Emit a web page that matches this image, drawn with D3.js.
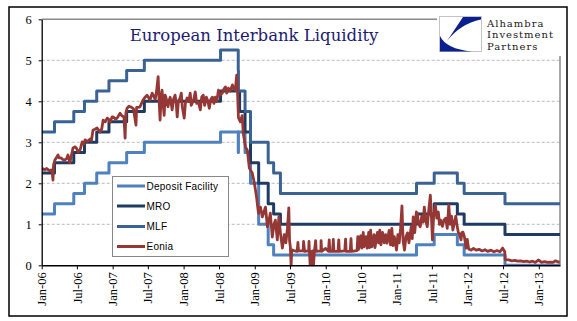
<!DOCTYPE html>
<html><head><meta charset="utf-8">
<script src="https://cdnjs.cloudflare.com/ajax/libs/d3/7.8.5/d3.min.js"></script>
<style>body{margin:0;background:#fff;} svg{display:block}</style>
</head><body><svg id="c" width="577" height="321"></svg>
<script>
const title = "European Interbank Liquidity";
const logoLines = ["Alhambra", "Investment", "Partners"];
const seriesNames = ["Deposit Facility", "MRO", "MLF", "Eonia"];
const yTicks = [0, 1, 2, 3, 4, 5, 6];
const xTickLabels = ["Jan-06","Jul-06","Jan-07","Jul-07","Jan-08","Jul-08","Jan-09","Jul-09","Jan-10","Jul-10","Jan-11","Jul-11","Jan-12","Jul-12","Jan-13"];
const startDate = "2006-01-01";
const endDate = "2013-04-20";

const depositFacility = [["2006-01-01",1.25],["2006-03-08",1.50],["2006-06-15",1.75],["2006-08-09",2.00],["2006-10-11",2.25],["2006-12-13",2.50],["2007-03-14",2.75],["2007-06-13",3.00],["2008-07-09",3.25],["2008-10-08",2.75],["2008-10-09",3.25],["2008-11-12",2.75],["2008-12-10",2.00],["2009-01-21",1.00],["2009-03-11",0.50],["2009-04-08",0.25],["2011-04-13",0.50],["2011-07-13",0.75],["2011-11-09",0.50],["2011-12-14",0.25],["2012-07-11",0.00]];
const mro = [["2006-01-01",2.25],["2006-03-08",2.50],["2006-06-15",2.75],["2006-08-09",3.00],["2006-10-11",3.25],["2006-12-13",3.50],["2007-03-14",3.75],["2007-06-13",4.00],["2008-07-09",4.25],["2008-10-15",3.75],["2008-11-12",3.25],["2008-12-10",2.50],["2009-01-21",2.00],["2009-03-11",1.50],["2009-04-08",1.25],["2009-05-13",1.00],["2011-04-13",1.25],["2011-07-13",1.50],["2011-11-09",1.25],["2011-12-14",1.00],["2012-07-11",0.75]];
const mlf = [["2006-01-01",3.25],["2006-03-08",3.50],["2006-06-15",3.75],["2006-08-09",4.00],["2006-10-11",4.25],["2006-12-13",4.50],["2007-03-14",4.75],["2007-06-13",5.00],["2008-07-09",5.25],["2008-10-08",4.75],["2008-10-09",4.25],["2008-11-12",3.75],["2008-12-10",3.00],["2009-03-11",2.50],["2009-04-08",2.25],["2009-05-13",1.75],["2011-04-13",2.00],["2011-07-13",2.25],["2011-11-09",2.00],["2011-12-14",1.75],["2012-07-11",1.50]];
const eonia = [
["2006-01-02",2.37],["2006-01-16",2.33],["2006-01-27",2.36],["2006-02-10",2.31],["2006-02-23",2.33],["2006-02-28",2.08],["2006-03-03",2.45],["2006-03-10",2.57],["2006-03-26",2.69],["2006-03-31",2.62],["2006-04-10",2.62],["2006-04-20",2.58],["2006-04-30",2.57],["2006-05-09",2.60],["2006-05-16",2.69],["2006-05-26",2.50],["2006-06-02",2.66],["2006-06-11",2.86],["2006-06-21",2.89],["2006-06-30",2.85],["2006-07-07",2.76],["2006-07-18",2.82],["2006-07-28",3.01],["2006-08-05",2.95],["2006-08-12",3.06],["2006-08-25",3.02],["2006-09-07",3.08],["2006-09-14",3.05],["2006-09-22",3.30],["2006-10-02",3.32],["2006-10-13",3.35],["2006-10-28",3.25],["2006-11-06",3.33],["2006-11-13",3.54],["2006-11-24",3.50],["2006-12-04",3.59],["2006-12-12",3.56],["2006-12-19",3.49],["2006-12-29",3.62],
["2007-01-03",3.62],["2007-01-15",3.57],["2007-01-24",3.59],["2007-02-08",3.71],["2007-02-18",3.64],["2007-02-28",3.62],["2007-03-06",3.10],["2007-03-10",3.72],["2007-03-16",3.83],["2007-03-26",3.88],["2007-04-05",3.86],["2007-04-18",3.82],["2007-05-01",3.42],["2007-05-04",3.85],["2007-05-21",3.86],["2007-06-06",4.03],["2007-06-17",4.10],["2007-06-27",4.15],["2007-07-12",4.03],["2007-07-23",4.20],["2007-08-08",4.05],["2007-08-15",4.25],["2007-08-23",4.60],["2007-08-28",4.00],["2007-09-02",3.54],["2007-09-07",4.10],["2007-09-12",4.27],["2007-09-18",3.90],["2007-09-23",3.66],["2007-09-28",4.15],["2007-10-03",4.08],["2007-10-08",3.92],["2007-10-13",3.87],["2007-10-18",4.02],["2007-10-24",4.10],["2007-10-29",3.95],["2007-11-03",3.79],["2007-11-10",4.05],["2007-11-18",4.15],["2007-11-24",3.95],["2007-11-29",3.62],["2007-12-05",4.00],["2007-12-14",4.08],["2007-12-20",4.20],["2007-12-25",3.87],
["2008-01-04",3.59],["2008-01-10",3.95],["2008-01-19",4.08],["2008-01-28",4.00],["2008-02-04",4.20],["2008-02-09",3.90],["2008-02-14",3.95],["2008-02-22",4.05],["2008-03-01",4.23],["2008-03-08",3.95],["2008-03-17",3.98],["2008-03-27",3.79],["2008-04-03",4.10],["2008-04-11",4.15],["2008-04-18",3.90],["2008-04-27",4.10],["2008-05-05",4.00],["2008-05-12",3.83],["2008-05-20",4.05],["2008-05-28",4.10],["2008-06-05",3.95],["2008-06-12",4.10],["2008-06-20",4.00],["2008-06-28",4.27],["2008-07-08",4.15],["2008-07-18",4.20],["2008-07-26",4.30],["2008-08-03",4.35],["2008-08-10",4.20],["2008-08-18",4.32],["2008-08-28",4.25],["2008-09-08",4.40],["2008-09-16",4.30],["2008-09-23",4.27],["2008-09-30",4.64],["2008-10-03",4.40],["2008-10-09",3.60],["2008-10-19",3.50],["2008-10-28",3.65],["2008-11-03",3.22],["2008-11-14",2.89],["2008-11-24",2.80],["2008-12-04",2.37],["2008-12-19",2.25],["2008-12-30",2.00],
["2009-01-10",1.67],["2009-01-20",1.27],["2009-01-30",1.42],["2009-02-09",1.18],["2009-02-17",1.30],["2009-02-25",1.42],["2009-03-07",0.94],["2009-03-15",1.10],["2009-03-22",1.27],["2009-04-01",0.69],["2009-04-10",1.00],["2009-04-17",1.10],["2009-04-27",0.62],["2009-05-05",1.18],["2009-05-13",0.79],["2009-05-23",0.42],["2009-06-02",0.75],["2009-06-10",0.55],["2009-06-18",0.90],["2009-06-25",1.40],["2009-06-29",0.60],["2009-07-03",0.45],["2009-07-07",0.00],["2009-07-10",0.38],["2009-07-20",0.36],["2009-08-07",0.34],["2009-08-11",0.56],["2009-08-14",0.35],["2009-09-07",0.35],["2009-09-09",0.58],["2009-09-14",0.34],["2009-10-05",0.35],["2009-10-07",0.58],["2009-10-09",0.35],["2009-10-13",0.00],["2009-10-16",0.34],["2009-10-21",0.00],["2009-10-26",0.35],["2009-10-30",0.00],["2009-11-04",0.36],["2009-11-10",0.60],["2009-11-13",0.34],["2009-12-07",0.35],["2009-12-08",0.60],["2009-12-11",0.34],["2009-12-31",0.41],
["2010-01-15",0.34],["2010-01-19",0.62],["2010-01-22",0.34],["2010-02-05",0.34],["2010-02-09",0.63],["2010-02-12",0.34],["2010-03-05",0.34],["2010-03-09",0.62],["2010-03-12",0.34],["2010-04-09",0.35],["2010-04-13",0.64],["2010-04-16",0.34],["2010-05-07",0.34],["2010-05-11",0.65],["2010-05-14",0.34],["2010-06-11",0.36],["2010-06-15",0.70],["2010-06-18",0.38],["2010-06-30",0.72],["2010-07-05",0.42],["2010-07-13",0.80],["2010-07-17",0.45],["2010-07-27",0.70],["2010-08-02",0.42],["2010-08-10",0.80],["2010-08-14",0.43],["2010-08-20",0.86],["2010-08-26",0.45],["2010-09-07",0.75],["2010-09-11",0.43],["2010-09-24",0.80],["2010-09-30",0.55],["2010-10-06",0.86],["2010-10-12",0.50],["2010-10-20",0.80],["2010-10-29",0.55],["2010-11-05",0.75],["2010-11-12",0.54],["2010-11-23",0.85],["2010-11-30",0.50],["2010-12-07",0.90],["2010-12-13",0.48],["2010-12-20",0.70],["2010-12-31",0.37],
["2011-01-07",0.75],["2011-01-14",0.55],["2011-01-21",0.90],["2011-01-28",1.45],["2011-02-03",0.60],["2011-02-10",0.37],["2011-02-18",0.70],["2011-02-26",0.79],["2011-03-05",0.55],["2011-03-17",0.94],["2011-03-22",0.65],["2011-03-27",1.18],["2011-04-04",0.80],["2011-04-12",1.30],["2011-04-17",1.27],["2011-04-24",1.00],["2011-05-02",0.94],["2011-05-10",1.20],["2011-05-17",1.05],["2011-05-23",1.42],["2011-05-30",1.10],["2011-06-07",0.94],["2011-06-14",1.30],["2011-06-23",1.71],["2011-06-28",1.25],["2011-07-04",0.62],["2011-07-10",1.20],["2011-07-19",1.47],["2011-07-26",1.15],["2011-08-03",1.30],["2011-08-09",1.00],["2011-08-15",1.10],["2011-08-24",0.95],["2011-09-01",1.10],["2011-09-10",1.15],["2011-09-18",0.90],["2011-09-26",1.47],["2011-10-03",1.00],["2011-10-10",1.20],["2011-10-17",0.86],["2011-10-25",1.05],["2011-11-01",1.20],["2011-11-07",0.98],["2011-11-14",0.80],["2011-11-21",0.75],["2011-11-28",0.62],["2011-12-02",0.80],["2011-12-08",0.81],["2011-12-15",0.70],["2011-12-20",0.55],["2011-12-24",0.42],["2011-12-30",0.63],
["2012-01-06",0.40],["2012-01-18",0.37],["2012-01-31",0.41],["2012-02-14",0.37],["2012-02-29",0.39],["2012-03-15",0.35],["2012-03-30",0.38],["2012-04-13",0.34],["2012-04-30",0.37],["2012-05-15",0.33],["2012-05-31",0.36],["2012-06-15",0.33],["2012-06-29",0.42],["2012-07-10",0.33],["2012-07-12",0.14],["2012-07-31",0.13],["2012-08-15",0.11],["2012-08-31",0.12],["2012-09-14",0.10],["2012-09-28",0.11],["2012-10-15",0.09],["2012-10-31",0.10],["2012-11-15",0.08],["2012-11-30",0.10],["2012-12-14",0.07],["2012-12-31",0.13],
["2013-01-15",0.07],["2013-01-31",0.09],["2013-02-15",0.07],["2013-02-28",0.08],["2013-03-15",0.07],["2013-03-28",0.11],["2013-04-10",0.08],["2013-04-19",0.08]];

const colors = {"Deposit Facility":"#4f81bd","MRO":"#1f3a63","MLF":"#3a6394","Eonia":"#953735"};

const svg = d3.select("#c");
const W = 577, H = 321;
const L = 41.7, R = 560, T = 19.3, B = 265.3;
const parse = d3.timeParse("%Y-%m-%d");
const x = d3.scaleTime().domain([parse(startDate), parse(endDate)]).range([L, R]);
const y = d3.scaleLinear().domain([0, 6]).range([B, T]);

svg.append("rect").attr("width", W).attr("height", H).attr("fill", "#fff");
svg.append("rect").attr("x", 9).attr("y", 7).attr("width", 558).attr("height", 309)
  .attr("fill", "none").attr("stroke", "#000").attr("stroke-width", 1.5);

// gridlines
svg.append("g").selectAll("line").data(yTicks.filter(d => d > 0 && d < 6)).join("line")
  .attr("x1", L).attr("x2", R).attr("y1", d => y(d)).attr("y2", d => y(d))
  .attr("stroke", "#a8a8a8").attr("stroke-width", 0.8).attr("stroke-dasharray", "3,2");

// plot frame top/right
svg.append("path").attr("d", `M${L},${y(6)}H${R}V${B}`).attr("fill", "none")
  .attr("stroke", "#8a8a8a").attr("stroke-width", 1.5);

// series
const toPts = arr => arr.map(d => ({date: parse(d[0]), value: d[1]}));
const stepPts = arr => { const p = toPts(arr); p.push({date: parse(endDate), value: arr[arr.length - 1][1]}); return p; };
const stepLine = d3.line().x(d => x(d.date)).y(d => y(d.value)).curve(d3.curveStepAfter);
const plainLine = d3.line().x(d => x(d.date)).y(d => y(d.value));

svg.append("defs").append("clipPath").attr("id", "clip").append("rect")
  .attr("x", L).attr("y", T - 5).attr("width", R - L).attr("height", B - T + 5);
const g = svg.append("g").attr("clip-path", "url(#clip)");
const stepSeries = [["Deposit Facility", depositFacility], ["MRO", mro], ["MLF", mlf]];
stepSeries.forEach(([name, arr]) => {
  g.append("path").attr("d", stepLine(stepPts(arr))).attr("fill", "none")
    .attr("stroke", colors[name]).attr("stroke-width", 3).attr("stroke-linejoin", "round");
});
g.append("path").attr("d", plainLine(toPts(eonia))).attr("fill", "none")
  .attr("stroke", colors["Eonia"]).attr("stroke-width", 2.8).attr("stroke-linejoin", "round");

// axes
const xTickDates = xTickLabels.map(d3.timeParse("%b-%y"));
const xAxis = d3.axisBottom(x).tickValues(xTickDates).tickFormat(d3.timeFormat("%b-%y")).tickSizeInner(4).tickSizeOuter(0);
const xg = svg.append("g").attr("transform", `translate(0,${B})`).call(xAxis);
xg.select(".domain").attr("stroke", "#000").attr("stroke-width", 1.5);
xg.selectAll(".tick line").attr("stroke", "#000").attr("stroke-width", 1);
xg.selectAll(".tick text").attr("font-family", "'Liberation Serif', 'Times New Roman', serif")
  .attr("font-size", 12.5).attr("fill", "#000")
  .attr("transform", "rotate(-90)").attr("text-anchor", "end")
  .attr("x", -7).attr("y", 0).attr("dy", "0.33em");

const yAxis = d3.axisLeft(y).tickValues(yTicks).tickFormat(d3.format("d")).tickSizeInner(3).tickSizeOuter(0);
const yg = svg.append("g").attr("transform", `translate(${L},0)`).call(yAxis);
yg.select(".domain").attr("stroke", "#000").attr("stroke-width", 1.3);
yg.selectAll(".tick line").attr("stroke", "#000");
yg.selectAll(".tick text").attr("font-family", "'Liberation Serif', 'Times New Roman', serif")
  .attr("font-size", 12.5).attr("fill", "#000").attr("x", -10);

// title
svg.append("text").attr("x", 254).attr("y", 41).attr("text-anchor", "middle")
  .attr("font-family", "'DejaVu Serif', serif").attr("font-size", 16.5).attr("fill", "#1c1c70")
  .text(title);

// logo
const lg = svg.append("g");
lg.append("rect").attr("x", 437).attr("y", 10).attr("width", 124).attr("height", 46).attr("fill", "#fff");
lg.append("rect").attr("x", 439.5).attr("y", 16.5).attr("width", 42).attr("height", 35)
  .attr("fill", "#fff").attr("stroke", "#c4c4c4").attr("stroke-width", 1);
lg.append("path").attr("d", "M463,17 L481,17 L481,19.5 Q460,24 447,41 Z").attr("fill", "#0b1f8e");
lg.append("path").attr("d", "M440,36 Q446,49 472,51.5 L440,51.5 Z").attr("fill", "#0b1f8e");
lg.selectAll("text.logo").data(logoLines).join("text").attr("class", "logo")
  .attr("x", 487).attr("y", (d, i) => 26.5 + i * 11.8)
  .attr("font-family", "'DejaVu Serif', serif").attr("font-size", 10).attr("letter-spacing", 1)
  .attr("fill", "#1a1a1a").attr("font-weight", 500)
  .text(d => d);

// legend
const leg = svg.append("g");
leg.append("rect").attr("x", 112.5).attr("y", 176.5).attr("width", 116).attr("height", 80)
  .attr("fill", "#fff").attr("stroke", "#888").attr("stroke-width", 1);
const rowY = [186, 206, 226.5, 246.5];
seriesNames.forEach((name, i) => {
  leg.append("line").attr("x1", 117).attr("x2", 145).attr("y1", rowY[i]).attr("y2", rowY[i])
    .attr("stroke", colors[name]).attr("stroke-width", 3);
  leg.append("text").attr("x", 146.5).attr("y", rowY[i] + 3.6)
    .attr("font-family", "'Liberation Sans', Arial, sans-serif").attr("font-size", 10)
    .attr("letter-spacing", 0.25).attr("fill", "#000").text(name);
});
</script>
</body></html>
